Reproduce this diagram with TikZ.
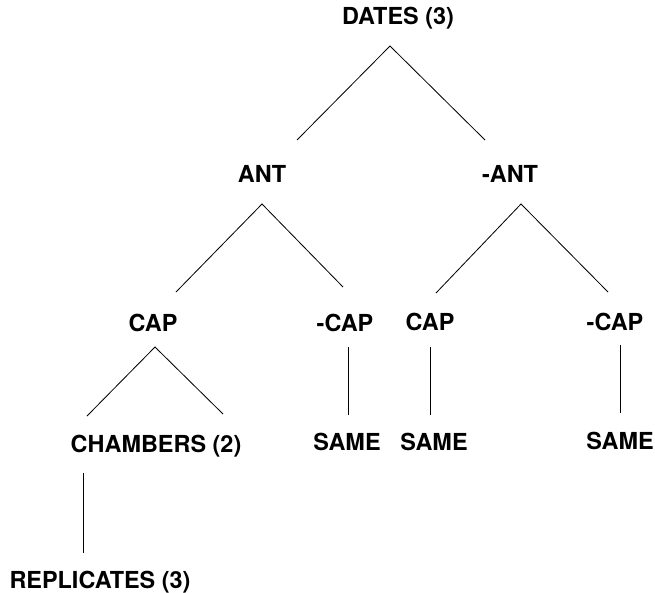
\documentclass[tikz,border=0pt]{standalone}
\usepackage{fontspec}
\setmainfont{TeX Gyre Heros}
\usepackage{tikz}
\tikzset{
  lbl/.style={anchor=base, inner sep=0pt, font=\fontsize{20}{24}\selectfont\bfseries},
  branch/.style={line width=0.7pt, color=black}
}

\begin{document}
\begin{tikzpicture}[x=0.03cm, y=-0.03cm]
  \useasboundingbox (0,0) rectangle (655,592);
  % labels
  \node[lbl] (dates) at (398,25) {DATES (3)};
  \node[lbl] (ant) at (262,182) {ANT};
  \node[lbl] (nant) at (510,182) {-ANT};
  \node[lbl] (capL) at (153,331) {CAP};
  \node[lbl] (ncapL) at (345,331) {-CAP};
  \node[lbl] (capR) at (430,330) {CAP};
  \node[lbl] (ncapR) at (615,330) {-CAP};
  \node[lbl] (chambers) at (156,452) {CHAMBERS (2)};
  \node[lbl] (sameA) at (347,450) {SAME};
  \node[lbl] (sameB) at (434,450) {SAME};
  \node[lbl] (sameC) at (620,449) {SAME};
  \node[lbl] (repl) at (100,588) {REPLICATES (3)};
  % branch points
  \coordinate (dates-a) at (390,46);
  \coordinate (ant-in) at (297,140);
  \coordinate (nant-in) at (485,140);
  \coordinate (ant-a) at (262,204);
  \coordinate (capL-in) at (176,292);
  \coordinate (ncapL-in) at (343,287);
  \coordinate (nant-a) at (521,204);
  \coordinate (capR-in) at (436,293);
  \coordinate (ncapR-in) at (608,292);
  \coordinate (capL-a) at (155,347);
  \coordinate (chambers-in) at (87,416);
  \coordinate (chambers-in2) at (223,414);
  \coordinate (ncapL-a) at (348,347);
  \coordinate (sameA-in) at (348,415);
  \coordinate (capR-a) at (430,347);
  \coordinate (sameB-in) at (430,415);
  \coordinate (ncapR-a) at (620,345);
  \coordinate (sameC-in) at (620,413);
  \coordinate (chambers-a) at (83,473);
  \coordinate (repl-in) at (83,553);
  % branches
  \draw[branch] (ant-in) -- (dates-a) -- (nant-in);
  \draw[branch] (capL-in) -- (ant-a) -- (ncapL-in);
  \draw[branch] (capR-in) -- (nant-a) -- (ncapR-in);
  \draw[branch] (chambers-in) -- (capL-a) -- (chambers-in2);
  \draw[branch] (ncapL-a) -- (sameA-in);
  \draw[branch] (capR-a) -- (sameB-in);
  \draw[branch] (ncapR-a) -- (sameC-in);
  \draw[branch] (chambers-a) -- (repl-in);
\end{tikzpicture}
\end{document}
